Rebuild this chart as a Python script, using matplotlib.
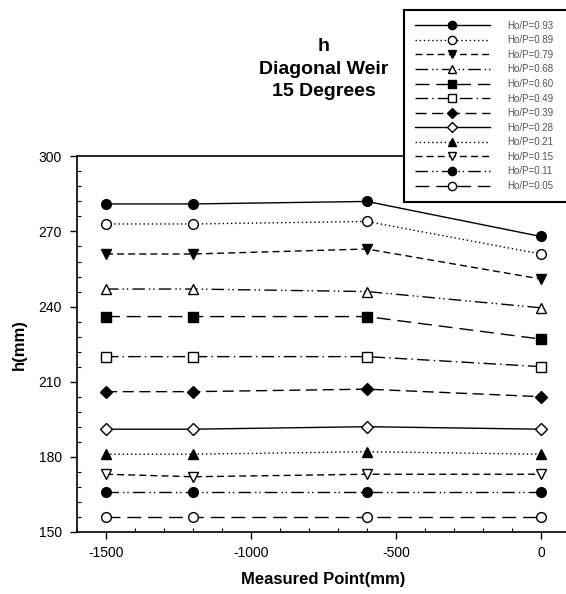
import matplotlib
matplotlib.use("Agg")
import matplotlib.pyplot as plt
from matplotlib.ticker import MultipleLocator

plt.rcParams['font.family'] = ['Liberation Sans', 'DejaVu Sans']
plt.rcParams['axes.unicode_minus'] = False

x_points = [-1500, -1200, -600, 0]
labels = ["Ho/P=0.93", "Ho/P=0.89", "Ho/P=0.79", "Ho/P=0.68", "Ho/P=0.60", "Ho/P=0.49",
          "Ho/P=0.39", "Ho/P=0.28", "Ho/P=0.21", "Ho/P=0.15", "Ho/P=0.11", "Ho/P=0.05"]
h_093 = [281, 281, 282, 268]
h_089 = [273, 273, 274, 261]
h_079 = [261, 261, 263, 251]
h_068 = [247, 247, 246, 239.5]
h_060 = [236, 236, 236, 227]
h_049 = [220, 220, 220, 216]
h_039 = [206, 206, 207, 204]
h_028 = [191, 191, 192, 191]
h_021 = [181, 181, 182, 181]
h_015 = [173, 172, 173, 173]
h_011 = [166, 166, 166, 166]
h_005 = [156, 156, 156, 156]
series = [h_093, h_089, h_079, h_068, h_060, h_049, h_039, h_028, h_021, h_015, h_011, h_005]

styles = [
    ('-', 'o', True),
    ((0, (1, 2)), 'o', False),
    ((0, (5, 3)), 'v', True),
    ((0, (9, 3, 1, 2, 1, 3)), '^', False),
    ((0, (10, 5)), 's', True),
    ((0, (9, 3, 1, 3)), 's', False),
    ((0, (8, 4)), 'D', True),
    ('-', 'D', False),
    ((0, (1, 2)), '^', True),
    ((0, (5, 3)), 'v', False),
    ((0, (9, 3, 1, 2, 1, 3)), 'o', True),
    ((0, (10, 5)), 'o', False),
]

fig = plt.figure(figsize=(5.66, 5.94), dpi=100)
ax = fig.add_axes([0.136, 0.1047, 0.871, 0.632])

handles = []
for vals, lab, (ls, mk, filled) in zip(series, labels, styles):
    ms = 7 if mk != 'D' else 6.5
    ln, = ax.plot(x_points, vals, linestyle=ls, color='black', linewidth=1.0,
                  marker=mk, markersize=ms, markerfacecolor='black' if filled else 'white',
                  markeredgecolor='black', markeredgewidth=1.0, label=lab, clip_on=False)
    handles.append(ln)

ax.set_xlim(-1600, 100)
ax.set_ylim(150, 300)
ax.set_xticks([-1500, -1000, -500, 0])
ax.set_yticks([150, 180, 210, 240, 270, 300])
ax.xaxis.set_minor_locator(MultipleLocator(100))
ax.yaxis.set_minor_locator(MultipleLocator(6))
ax.tick_params(axis='both', which='major', direction='out', length=5, width=1, labelsize=10)
ax.tick_params(axis='x', which='major', pad=5)
ax.tick_params(axis='y', which='major', pad=6)
ax.tick_params(axis='both', which='minor', direction='in', length=3, width=0.8)
for s in ax.spines.values():
    s.set_linewidth(1.2)

ax.set_xlabel("Measured Point(mm)", fontsize=12, fontweight='bold', labelpad=9)
ax.set_ylabel("h(mm)", fontsize=12, fontweight='bold', labelpad=8)
fig.text(324/566, 1 - 69/594, "h\nDiagonal Weir\n15 Degrees", ha='center', va='center',
         fontsize=14, fontweight='bold', linespacing=1.45)

leg = fig.legend(handles=handles, loc='upper left',
                 bbox_to_anchor=(404/566, 1 - 202/594, 180/566, 192/594), mode='expand',
                 fontsize=7, numpoints=1, handlelength=7.7, handletextpad=1.85,
                 labelspacing=0.47, borderpad=1.1, fancybox=False, framealpha=1,
                 edgecolor='black', borderaxespad=0, markerscale=0.85)
leg.get_frame().set_linewidth(1.5)
for t in leg.get_texts():
    t.set_color('#555555')
leg.set_zorder(10)

fig.savefig("out.png", dpi=100)
